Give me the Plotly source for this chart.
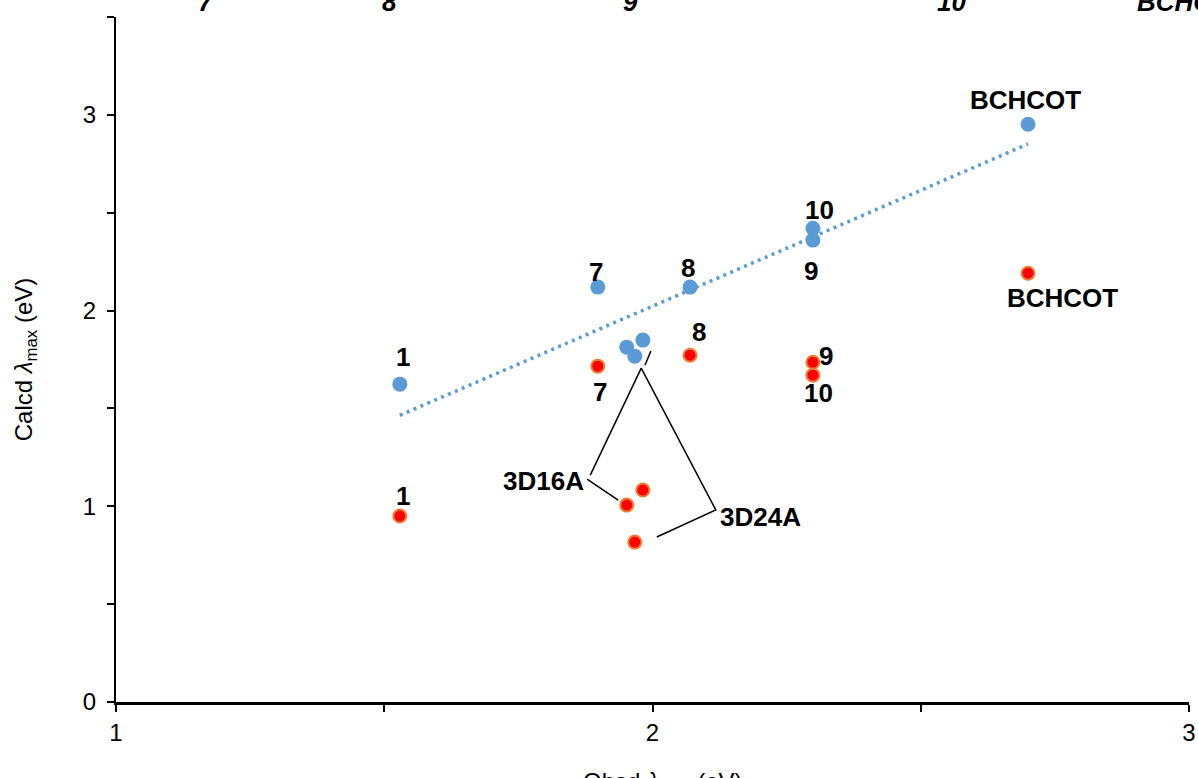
import numpy as np
import plotly.graph_objects as go

# Observed absorption maxima (eV) shared by both series
obsd = [1.529, 1.898, 2.070, 1.952, 1.982, 1.967, 2.299, 2.299, 2.700]
# Calculated maxima (eV) for the two computational methods
calcd_blue = [1.624, 2.120, 2.120, 1.813, 1.849, 1.767, 2.360, 2.421, 2.952]
calcd_red = [0.950, 1.716, 1.772, 1.006, 1.083, 0.817, 1.736, 1.670, 2.191]
names = ["1", "7", "8", "", "", "", "9", "10", "BCHCOT"]

# Label offsets (px) for each point name, per series
blue_shift = {"1": (3, 27), "7": (-2, 15), "8": (-2, 19), "9": (-2, -31),
              "10": (7, 18), "BCHCOT": (-3, 24)}
red_shift = {"1": (3, 20), "7": (2, -26), "8": (9, 23), "9": (13, 6),
             "10": (6, -18), "BCHCOT": (34, -25)}

# Leader lines connecting the 3D16A / 3D24A labels to their points
leaders = [
    [(1.884, 1.159), (1.979, 1.706)],
    [(1.878, 1.139), (1.936, 1.032)],
    [(1.979, 1.706), (2.118, 0.981), (2.008, 0.843)],
    [(1.986, 1.721), (1.997, 1.793)],
]
group_names = ["3D16A", "3D24A"]
group_x = [1.876, 2.122]
group_y = [1.129, 0.945]
group_anchor = ["right", "left"]

# Labels along the top edge
top_labels = ["7", "8", "9", "10", "BCHCOT"]
top_label_x = [0.075, 0.246, 0.471, 0.763, 0.950]

BLUE = "#5B9BD5"
FONT = "Liberation Sans, Arial, sans-serif"

fig = go.Figure()

# Linear trendline through the blue series
slope, intercept = np.polyfit(obsd, calcd_blue, 1)
xt = np.array([min(obsd), max(obsd)])
fig.add_trace(go.Scatter(x=xt, y=slope * xt + intercept, mode="lines",
                         line=dict(color=BLUE, width=3.5, dash="3px,4.5px"),
                         hoverinfo="skip"))

fig.add_trace(go.Scatter(x=obsd, y=calcd_blue, mode="markers",
                         marker=dict(color=BLUE, size=15, line=dict(width=0))))
fig.add_trace(go.Scatter(x=obsd, y=calcd_red, mode="markers",
                         marker=dict(color="#FF0000", size=13,
                                     line=dict(color="#ED7D31", width=2))))

for pts in leaders:
    fig.add_trace(go.Scatter(x=[p[0] for p in pts], y=[p[1] for p in pts],
                             mode="lines", line=dict(color="black", width=1.5),
                             hoverinfo="skip"))

lab_font = dict(family=FONT, size=26, color="black")
for xv, yb, yr, nm in zip(obsd, calcd_blue, calcd_red, names):
    if not nm:
        continue
    dx, dy = blue_shift[nm]
    fig.add_annotation(x=xv, y=yb, text=f"<b>{nm}</b>", showarrow=False,
                       xshift=dx, yshift=dy, font=lab_font)
    dx, dy = red_shift[nm]
    fig.add_annotation(x=xv, y=yr, text=f"<b>{nm}</b>", showarrow=False,
                       xshift=dx, yshift=dy, font=lab_font)

for txt, xv, yv, anchor in zip(group_names, group_x, group_y, group_anchor):
    fig.add_annotation(x=xv, y=yv, text=f"<b>{txt}</b>", showarrow=False,
                       xanchor=anchor, font=lab_font)

for txt, xp in zip(top_labels, top_label_x):
    fig.add_annotation(x=xp, y=1.0, xref="paper", yref="paper", yanchor="bottom",
                       yshift=-2, text=f"<b><i>{txt}</i></b>", showarrow=False,
                       xanchor="left", font=lab_font)

# x-axis title sits low, partly below the page edge
fig.add_annotation(x=0.51, y=0, xref="paper", yref="paper", yanchor="top",
                   yshift=-64, text="Obsd <i>λ</i><sub>max</sub> (eV)",
                   showarrow=False, font=dict(family=FONT, size=24, color="black"))

tick_common = dict(ticks="outside", ticklen=7, tickwidth=2, tickcolor="black",
                   showgrid=False, zeroline=False, showline=True, linecolor="black",
                   automargin=False,
                   tickfont=dict(family=FONT, size=24, color="black"))

fig.update_xaxes(range=[1, 3], dtick=1, tick0=1, linewidth=3,
                 minor=dict(dtick=0.5, ticks="outside", ticklen=7, tickwidth=2,
                            tickcolor="black"),
                 **tick_common)
fig.update_yaxes(range=[0, 3.5], dtick=1, tick0=0, linewidth=2,
                 ticklabelstandoff=6,
                 minor=dict(dtick=0.5, ticks="outside", ticklen=7, tickwidth=2,
                            tickcolor="black"),
                 title=dict(text="Calcd <i>λ</i><sub>max</sub> (eV)", standoff=43,
                            font=dict(family=FONT, size=24, color="black")),
                 **tick_common)

fig.update_layout(width=1198, height=778, autosize=False,
                  margin=dict(l=116, r=9, t=17, b=76),
                  paper_bgcolor="white", plot_bgcolor="white",
                  showlegend=False, font=dict(family=FONT))

fig.write_html("out.html")
